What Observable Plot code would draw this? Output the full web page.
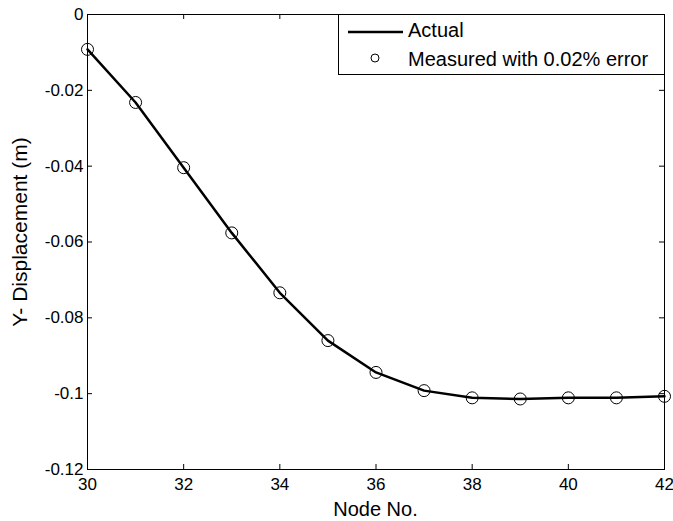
<!DOCTYPE html>
<html><head><meta charset="utf-8">
<script src="https://cdn.jsdelivr.net/npm/d3@7"></script>
<script src="https://cdn.jsdelivr.net/npm/@observablehq/plot@0.6"></script>
<style>
body{margin:0;background:#fff;font-family:"Liberation Sans",Arial,sans-serif;}
#wrap{position:relative;width:673px;height:521px;}
#legend{position:absolute;left:338px;top:14px;}
</style></head><body><div id="wrap"></div>
<script>
const nodes = [30, 31, 32, 33, 34, 35, 36, 37, 38, 39, 40, 41, 42];
const actualDisp = [-0.0092, -0.0232, -0.0404, -0.0576, -0.0734, -0.0860, -0.0944, -0.0992, -0.1011, -0.1014, -0.1011, -0.1011, -0.1007];
const measuredDisp = [-0.0092, -0.0232, -0.0404, -0.0576, -0.0734, -0.0860, -0.0944, -0.0992, -0.1011, -0.1014, -0.1011, -0.1011, -0.1007];
const xTicks = [30, 32, 34, 36, 38, 40, 42];
const yTicks = [0, -0.02, -0.04, -0.06, -0.08, -0.1, -0.12];
const xLabel = "Node No.";
const yLabel = "Y- Displacement (m)";
const seriesNames = ["Actual", "Measured with 0.02% error"];

const W = 673, H = 521, mL = 87, mR = 9, mT = 14, mB = 52;
const plotW = W - mL - mR, plotH = H - mT - mB, tick = 5;
const actual = nodes.map((n, i) => ({node: n, disp: actualDisp[i]}));
const measured = nodes.map((n, i) => ({node: n, disp: measuredDisp[i]}));
const fmt = d => d === 0 ? "0" : String(+d.toFixed(2));
const font = "Liberation Sans, Arial, sans-serif";

const chart = Plot.plot({
  width: W, height: H,
  marginLeft: mL, marginRight: mR, marginTop: mT, marginBottom: mB,
  style: {fontFamily: font, fontSize: "17px", background: "white", color: "black"},
  x: {domain: [30, 42]},
  y: {domain: [-0.12, 0]},
  marks: [
    Plot.axisX(xTicks, {tickSize: 0, tickPadding: 8, label: null, fontSize: 17, tickFormat: d => String(d)}),
    Plot.axisY(yTicks, {tickSize: 0, tickPadding: 4, label: null, fontSize: 17, tickFormat: fmt}),
    Plot.ruleX(xTicks, {insetTop: plotH - tick, stroke: "black"}),
    Plot.ruleX(xTicks, {insetBottom: plotH - tick, stroke: "black"}),
    Plot.ruleY(yTicks, {insetRight: plotW - tick, stroke: "black"}),
    Plot.ruleY(yTicks, {insetLeft: plotW - tick, stroke: "black"}),
    Plot.frame({stroke: "black"}),
    Plot.line(actual, {x: "node", y: "disp", stroke: "black", strokeWidth: 2.5}),
    Plot.dot(measured, {x: "node", y: "disp", r: 6, stroke: "black", fill: "none", strokeWidth: 1})
  ]
});
document.getElementById("wrap").appendChild(chart);

const svg = d3.select(chart);
svg.append("text")
  .attr("x", mL + plotW / 2).attr("y", 516)
  .attr("text-anchor", "middle")
  .attr("font-family", font).attr("font-size", 20).attr("fill", "black")
  .text(xLabel);
svg.append("text")
  .attr("transform", "translate(27,232) rotate(-90)")
  .attr("text-anchor", "middle")
  .attr("font-family", font).attr("font-size", 21).attr("fill", "black")
  .text(yLabel);

// legend box inside the plot area (top right)
const lg = d3.select("#wrap").append("svg")
  .attr("id", "legend").attr("width", 327).attr("height", 61);
lg.append("rect").attr("x", 0.5).attr("y", 0.5).attr("width", 326).attr("height", 60)
  .attr("fill", "white").attr("stroke", "black");
lg.append("line").attr("x1", 10).attr("x2", 65).attr("y1", 18).attr("y2", 18)
  .attr("stroke", "black").attr("stroke-width", 2.5);
lg.append("circle").attr("cx", 37).attr("cy", 44).attr("r", 4)
  .attr("fill", "none").attr("stroke", "black");
lg.append("text").attr("x", 70).attr("y", 23)
  .attr("font-family", font).attr("font-size", 20).text(seriesNames[0]);
lg.append("text").attr("x", 70).attr("y", 52)
  .attr("font-family", font).attr("font-size", 20).text(seriesNames[1]);
</script>
</body></html>
